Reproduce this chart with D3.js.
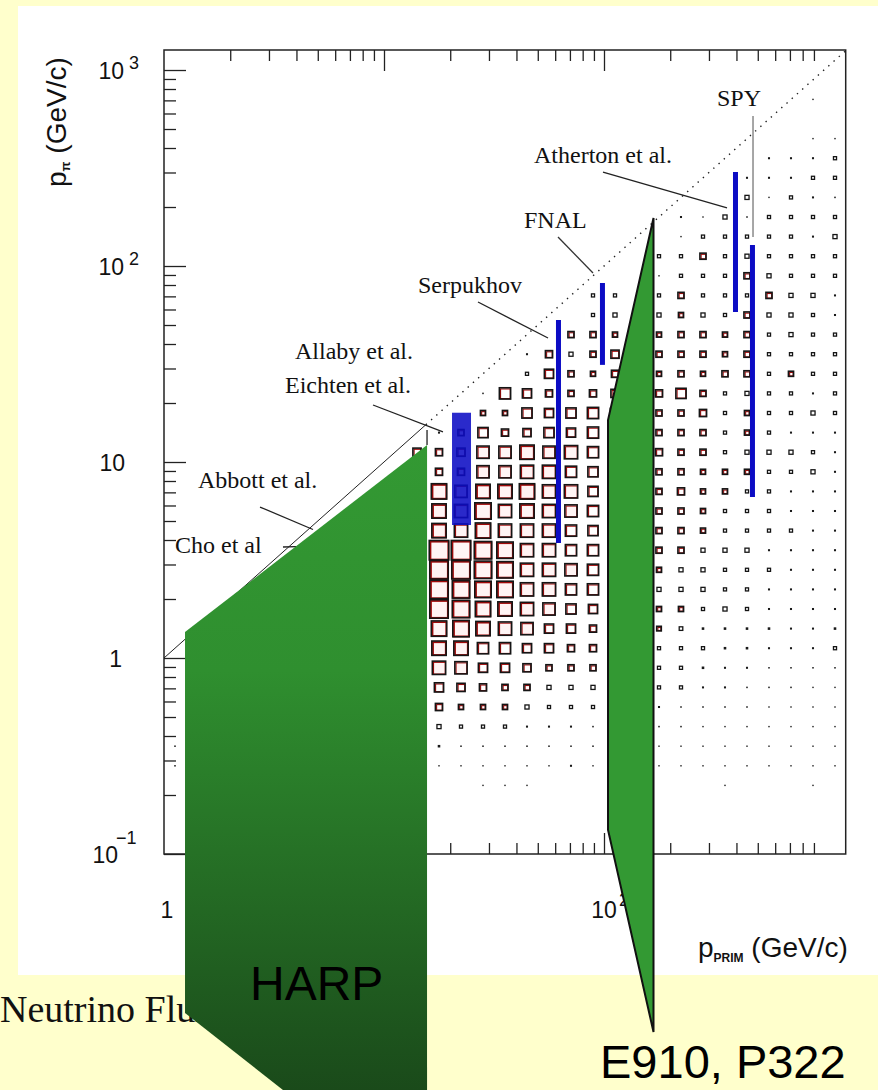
<!DOCTYPE html>
<html><head><meta charset="utf-8">
<script src="https://cdn.jsdelivr.net/npm/d3@7"></script>
<style>html,body{margin:0;padding:0;background:#FFFFCC;overflow:hidden}</style>
</head><body>
<svg id="c" width="878" height="1090"></svg>
<script>
// ---------------- DATA ----------------
// bin centres (log10 of GeV/c)
const colLog = [1.25,1.35,1.45,1.55,1.65,1.75,1.85,1.95,2.05,2.15,2.25,2.35,2.45,2.55,2.65,2.75,2.85,2.95,3.05];
const rowLog = [2.85,2.75,2.65,2.55,2.45,2.35,2.25,2.15,2.05,1.95,1.85,1.75,1.65,1.55,1.45,1.35,1.25,1.15,1.05,0.95,0.85,0.75,0.65,0.55,0.45,0.35,0.25,0.15,0.05,-0.05,-0.15,-0.25,-0.35,-0.45,-0.55,-0.65];
// box content per row (top row first), one value per column
const boxValues = [
 [0,0,0,0,0,0,0,0,0,0,0,0,0,0,0,0,0,1,0],
 [0,0,0,0,0,0,0,0,0,0,0,0,0,0,0,0,0,0,0],
 [0,0,0,0,0,0,0,0,0,0,0,0,0,0,0,0,0,1,1],
 [0,0,0,0,0,0,0,0,0,0,0,0,0,0,0,2,2,2,3],
 [0,0,0,0,0,0,0,0,0,0,0,0,0,0,2,2,2,3,3],
 [0,0,0,0,0,0,0,0,0,0,0,0,0,0,4,1,3,2,1.5],
 [0,0,0,0,0,0,0,0,0,0,0,2,1,4,1.5,3,3,3,3],
 [0,0,0,0,0,0,0,0,0,0,0,1,3,3,3,3,3,2,4],
 [0,0,0,0,0,0,0,0,0,0,3,3,6,3,4,3,3,3,3],
 [0,0,0,0,0,0,0,0,0,0,1,3,3,3,6,4,3,3,3],
 [0,0,0,0,0,0,0,3,3,0,3,6,3,3,3,6,4,4,2],
 [0,0,0,0,0,0,0,3,4,4,4,5,4,3,6,4,4,3,2],
 [0,0,0,0,0,0,6,6,5,5,5,6,6,5,6,3,4,3,3],
 [0,0,0,0,2,7,4,6,8,7,6,6,6,5,6,3,3,3,3],
 [0,0,0,0,3,9,6,5,7,7,5,6,5,6,6,3,5,3,3],
 [0,0,1.5,11,9,7,6,7,8,7,7,10,6,3,4,3,3,2,3],
 [0,0,5,5,10,9,10,11,9,8,6,6,7,3,5,3,3,4,3],
 [2,6,10,7,8,10,9,11,10,9,6,6,6,3,5,3,2,2,2],
 [7,8,12,12,14,12,13,11,11,10,7,6,6,3,4,4,4,3,2],
 [7,7,12,12,13,13,11,10,10,9,6,6,5,5,5,3,3,4,2],
 [15,12,14,14,15,13,13,10,10,9,6,7,5,5,3,3,2,2,2],
 [14,13,16,13,14,13,12,11,10,8,6,6,5,3,3,3,2,2,2],
 [14,13,15,13,13,13,11,10,10,8,6,6,5,3,3,3,3,2,2],
 [19,19,17,16,13,13,11,11,10,8,6,6,4,4,4,2,2,2,2],
 [18,18,17,16,13,13,12,11,9,7,5,4,4,3,3,3,2,2,2],
 [18,17,16,16,13,13,11,11,9,6,4,4,4,3,3,2,2,2,2],
 [18,17,15,14,13,12,10,9,8,6,5,5,3,4,3,2,2,2,2],
 [15,16,14,13,12,9,9,7,6,5,4.5,3.5,2.5,2.5,2.5,2.5,2,2,2.5],
 [14,14,11,11,9,9,7,7,6,4,3,3,3,2.5,2.5,2,2,2,3],
 [13,12,9,9,8,6,6,6,4,3,3,3,2.5,2,2,1.5,1.5,1.5,1.5],
 [9,8,7,6,6,4,4,4,3,3,3,3,2,2,1.5,1.5,1.5,1,1],
 [7,5,5,5,4,3,3,3,2,2,2,1.5,1.5,1.5,1.5,1,1,1,1],
 [4,3,3,3,2,2,2,1.5,1.5,1.5,1.5,1.5,1,1,1,1,1,1,1],
 [2.5,1.5,1.5,1.5,1.5,1.5,1.5,1.5,1,1,1,1,1,1,1,1,1,1,1],
 [1,1,1,1,1,1,2,1,1,1,1,1,1,1,1,1,1,1,1],
 [0,0,1,1,1,0,0,0,0,0,0,0,0,1,0,0,0,1,0]
];
// isolated cells outside the main grid (mostly hidden by the HARP callout)
const edgeCells = [
 {lx:1.15, ly:1.05, v:8},
 {lx:0.05, ly:-0.45, v:1.5},
 {lx:0.05, ly:-0.55, v:1.5}
];
// tick labels
const xTickLabels = [{v:1, base:"1", sup:""},{v:10, base:"10", sup:""},{v:100, base:"10", sup:"2"}];
const yTickLabels = [{v:1000, base:"10", sup:"3"},{v:100, base:"10", sup:"2"},{v:10, base:"10", sup:""},{v:1, base:"1", sup:""},{v:0.1, base:"10", sup:"\u22121"}];
// measurements (p_prim GeV/c, p_pi range GeV/c)
const expBars = [
 {name:"Serpukhov", p:62.1, lo:3.86, hi:53.0},
 {name:"FNAL", p:98.4, lo:31.3, hi:81.9},
 {name:"Atherton", p:396, lo:58.3, hi:301.6},
 {name:"SPY", p:473, lo:6.63, hi:128}
];
const allabyBox = {p0:20.38, p1:24.86, lo:4.77, hi:17.84};
// annotation labels (anchor in data coordinates)
const annoLabels = [
 {text:"SPY", p:326.3, q:655.1},
 {text:"Atherton et al.", p:48.07, q:337.0},
 {text:"FNAL", p:43.29, q:157.0},
 {text:"Serpukhov", p:14.27, q:73.16},
 {text:"Allaby et al.", p:3.939, q:33.54},
 {text:"Eichten et al.", p:3.548, q:22.49},
 {text:"Abbott et al.", p:1.427, q:7.404},
 {text:"Cho et al", p:1.122, q:3.434}
];
const annoPointers = [
 {a:[475.7,582.6], b:[475.7,140.6], c:"#777"},
 {a:[98.96,301.6], b:[362.4,197.7], c:"#222"},
 {a:[61.79,140.6], b:[89.13,92.1], c:"#333"},
 {a:[26.75,65.51], b:[55.66,42.93], c:"#222"},
 {a:[8.913,19.54], b:[18.54,14.23], c:"#222"},
 {a:[2.732,5.892], b:[4.756,4.524], c:"#222"},
 {a:[3.474,3.684], b:[4.00,3.70], c:"#222"},
 {a:[15.69,14.56], b:[15.69,12.21], c:"#222"}
];
// callout shapes (data coordinates)
const harpPoly = [[1.246,1.357],[15.69,12.21],[15.69,0.006249],[3.474,0.006249],[1.246,0.01545]];
const e910Poly = [[167.9,175.8],[104.3,16.38],[104.3,0.1326],[167.9,0.01235]];

// ---------------- DRAW ----------------
const svg = d3.select('#c');
svg.append('rect').attr('width',878).attr('height',1090).attr('fill','#FFFFCC');
svg.append('rect').attr('x',18).attr('y',6).attr('width',860).attr('height',969).attr('fill','#ffffff');

const L=164, R=845.7, T=50, B=854;
const x = d3.scaleLog().domain([1,1255]).range([L,R]);
const y = d3.scaleLog().domain([0.1,1265]).range([B,T]);
const size = d3.scaleLinear().domain([0,20]).range([0,20.5]);

// boxes
const cells = [];
rowLog.forEach((ly,ri)=>colLog.forEach((lx,ci)=>{const v=boxValues[ri][ci]; if(v>0) cells.push({lx,ly,v});}));
edgeCells.forEach(d=>cells.push(d));
cells.forEach(d=>{d.cx=x(Math.pow(10,d.lx)); d.cy=y(Math.pow(10,d.ly)); d.s=size(d.v);});
const gb = svg.append('g');
const small = cells.filter(d=>d.s<2.6), big = cells.filter(d=>d.s>=2.6);
gb.selectAll('rect.sm').data(small).join('rect').attr('class','sm')
  .attr('x',d=>d.cx-Math.max(d.s,1.4)/2).attr('y',d=>d.cy-Math.max(d.s,1.4)/2)
  .attr('width',d=>Math.max(d.s,1.4)).attr('height',d=>Math.max(d.s,1.4)).attr('fill','#1a1a1a');
gb.selectAll('rect.fillb').data(big.filter(d=>d.s>=12)).join('rect').attr('class','fillb')
  .attr('x',d=>d.cx-d.s/2).attr('y',d=>d.cy-d.s/2).attr('width',d=>d.s).attr('height',d=>d.s)
  .attr('fill','#fff4f4');
gb.selectAll('rect.red').data(big.filter(d=>d.s>=4.5)).join('rect').attr('class','red')
  .attr('x',d=>d.cx-d.s/2+1.2).attr('y',d=>d.cy-d.s/2+1.2).attr('width',d=>d.s-1.6).attr('height',d=>d.s-1.6)
  .attr('fill','none').attr('stroke','#a00a0a').attr('stroke-width',d=>d.s>=14?1.8:1.1);
gb.selectAll('rect.blk').data(big).join('rect').attr('class','blk')
  .attr('x',d=>d.cx-d.s/2).attr('y',d=>d.cy-d.s/2).attr('width',d=>d.s).attr('height',d=>d.s)
  .attr('fill','none').attr('stroke','#151515').attr('stroke-width',d=>d.s>=4.5?1.6:1.3);

// axes ticks
const isMajor = v => Math.abs(Math.log10(v)-Math.round(Math.log10(v)))<1e-9;
const xt = x.ticks().filter(v=>v>1 && v<1000);
const yt = y.ticks().filter(v=>v>=0.1 && v<=1265);
function styleAxis(g){ g.select('.domain').remove(); g.selectAll('line').attr('stroke','#222').attr('stroke-width',1.3); g.selectAll('text').remove(); }
svg.append('g').attr('transform',`translate(0,${T})`).call(d3.axisTop(x).tickValues(xt.filter(v=>!isMajor(v))).tickSize(-11)).call(styleAxis);
svg.append('g').attr('transform',`translate(0,${T})`).call(d3.axisTop(x).tickValues(xt.filter(isMajor)).tickSize(-21)).call(styleAxis);
svg.append('g').attr('transform',`translate(0,${B})`).call(d3.axisBottom(x).tickValues(xt.filter(v=>!isMajor(v))).tickSize(-11)).call(styleAxis);
svg.append('g').attr('transform',`translate(0,${B})`).call(d3.axisBottom(x).tickValues(xt.filter(isMajor)).tickSize(-21)).call(styleAxis);
svg.append('g').attr('transform',`translate(${L},0)`).call(d3.axisLeft(y).tickValues(yt.filter(v=>!isMajor(v))).tickSize(-12)).call(styleAxis);
svg.append('g').attr('transform',`translate(${L},0)`).call(d3.axisLeft(y).tickValues(yt.filter(isMajor)).tickSize(-22)).call(styleAxis);
svg.append('rect').attr('x',L).attr('y',T).attr('width',R-L).attr('height',B-T).attr('fill','none').attr('stroke','#222').attr('stroke-width',1.5);

// tick labels
const sans = "'Liberation Sans', Arial, Helvetica, sans-serif";
yTickLabels.forEach(t=>{
  const ty = y(t.v);
  const neg = t.sup.length>1;
  const baseEnd = t.sup ? (neg?118:124) : (t.base.length===1?122:125);
  svg.append('text').attr('x',baseEnd).attr('y',ty+9).attr('text-anchor','end')
    .attr('font-family',sans).attr('font-size',23).attr('fill','#111').text(t.base);
  if(t.sup) svg.append('text').attr('x',neg?116:129).attr('y',ty+(neg?-10:-1))
    .attr('font-family',sans).attr('font-size',18).attr('fill','#111').text(t.sup);
});
xTickLabels.forEach(t=>{
  const tx = x(t.v) + (t.base.length===1?3:0);
  svg.append('text').attr('x',tx).attr('y',918).attr('text-anchor','middle')
    .attr('font-family',sans).attr('font-size',23).attr('fill','#111').text(t.base);
  if(t.sup) svg.append('text').attr('x',tx+15).attr('y',906)
    .attr('font-family',sans).attr('font-size',18).attr('fill','#111').text(t.sup);
});
// axis titles
const yt1 = svg.append('text').attr('transform','translate(66,187) rotate(-90)')
  .attr('font-family',sans).attr('font-size',28).attr('fill','#111');
yt1.append('tspan').text('p');
yt1.append('tspan').attr('font-size',13).attr('font-weight','bold').attr('dy',4).text('\u03c0');
yt1.append('tspan').attr('dy',-4).text(' (GeV/c)');
const xt1 = svg.append('text').attr('x',698).attr('y',957)
  .attr('font-family',sans).attr('font-size',28).attr('fill','#111');
xt1.append('tspan').text('p');
xt1.append('tspan').attr('font-size',12).attr('font-weight','bold').attr('dy',5).text('PRIM');
xt1.append('tspan').attr('dy',-5).text(' (GeV/c)');

// diagonal p_pi = p_prim
const line = d3.line().x(d=>x(d[0])).y(d=>y(d[1]));
svg.append('path').attr('d',line([[1,1],[15.5,15.5]])).attr('fill','none').attr('stroke','#222').attr('stroke-width',1);
svg.append('path').attr('d',line([[15.5,15.5],[1255,1255]])).attr('fill','none').attr('stroke','#222')
  .attr('stroke-width',1.4).attr('stroke-dasharray','1.4 5.6');

// annotation pointers
annoPointers.forEach(a=>{
  svg.append('line').attr('x1',x(a.a[0])).attr('y1',y(a.a[1])).attr('x2',x(a.b[0])).attr('y2',y(a.b[1]))
    .attr('stroke',a.c).attr('stroke-width',1.3);
});

// blue measurement marks
const blue = '#0c0cc4';
svg.append('rect').attr('x',x(allabyBox.p0)).attr('y',y(allabyBox.hi))
  .attr('width',x(allabyBox.p1)-x(allabyBox.p0)).attr('height',y(allabyBox.lo)-y(allabyBox.hi))
  .attr('fill',blue).attr('opacity',0.88);
svg.selectAll('line.bar').data(expBars).join('line').attr('class','bar')
  .attr('x1',d=>x(d.p)).attr('x2',d=>x(d.p)).attr('y1',d=>y(d.hi)).attr('y2',d=>y(d.lo))
  .attr('stroke',blue).attr('stroke-width',5);

// annotation labels
const serif = "'Liberation Serif', 'Times New Roman', Times, serif";
svg.selectAll('text.anno').data(annoLabels).join('text').attr('class','anno')
  .attr('x',d=>x(d.p)).attr('y',d=>y(d.q)).attr('font-family',serif).attr('font-size',24)
  .attr('fill','#111').text(d=>d.text);

// slide footer text
svg.append('text').attr('x',0).attr('y',1022).attr('font-family',serif).attr('font-size',38)
  .attr('fill','#111').text('Neutrino Flux');

// callouts
const defs = svg.append('defs');
const grad = defs.append('linearGradient').attr('id','harpG').attr('x1',0).attr('y1',0).attr('x2',0).attr('y2',1);
grad.append('stop').attr('offset',0).attr('stop-color','#339933');
grad.append('stop').attr('offset',0.35).attr('stop-color','#2f8f2f');
grad.append('stop').attr('offset',1).attr('stop-color','#1a4a1a');
const poly = d3.line().x(d=>x(d[0])).y(d=>y(d[1]));
svg.append('path').attr('d',poly(harpPoly)+'Z').attr('fill','url(#harpG)');
svg.append('path').attr('d',poly(e910Poly)+'Z').attr('fill','#339933').attr('stroke','#111').attr('stroke-width',2);
svg.append('text').attr('x',250).attr('y',1000).attr('font-family',sans).attr('font-size',48).attr('fill','#000').text('HARP');
svg.append('text').attr('x',600).attr('y',1078).attr('font-family',sans).attr('font-size',47).attr('fill','#000').text('E910, P322');
</script>
</body></html>
